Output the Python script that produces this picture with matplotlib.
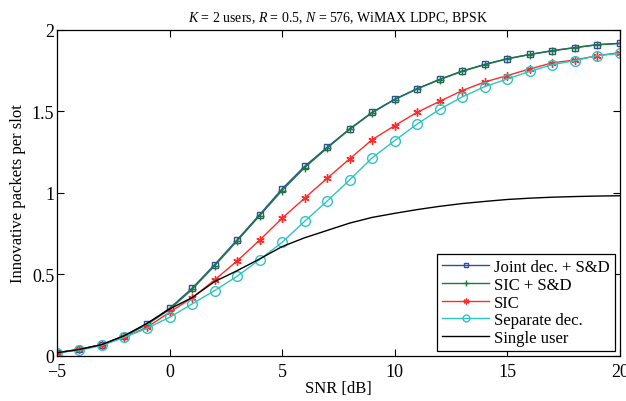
import matplotlib
matplotlib.use("Agg")
import matplotlib.pyplot as plt
import numpy as np

plt.rcParams['font.family'] = ['Liberation Serif', 'DejaVu Serif']
plt.rcParams['mathtext.fontset'] = 'custom'
plt.rcParams['mathtext.it'] = 'Liberation Serif:italic'
plt.rcParams['mathtext.rm'] = 'Liberation Serif'

snr = list(range(-5, 21))
joint = [0.02, 0.04, 0.07, 0.125, 0.196, 0.292, 0.415, 0.56, 0.712, 0.867, 1.025, 1.163,
         1.28, 1.393, 1.495, 1.575, 1.64, 1.697, 1.748, 1.789, 1.824, 1.85, 1.873, 1.892,
         1.91, 1.918]
sic_sd = [0.02, 0.04, 0.07, 0.122, 0.193, 0.285, 0.408, 0.553, 0.705, 0.86, 1.015, 1.155,
          1.275, 1.39, 1.492, 1.573, 1.638, 1.695, 1.746, 1.787, 1.822, 1.849, 1.872, 1.891,
          1.909, 1.917]
sic = [0.02, 0.04, 0.07, 0.115, 0.176, 0.268, 0.356, 0.466, 0.583, 0.71, 0.845, 0.968,
       1.09, 1.209, 1.327, 1.413, 1.495, 1.562, 1.628, 1.681, 1.72, 1.761, 1.798, 1.816,
       1.842, 1.861]
separate = [0.02, 0.035, 0.065, 0.115, 0.17, 0.237, 0.319, 0.401, 0.489, 0.591, 0.697,
            0.826, 0.95, 1.08, 1.215, 1.321, 1.423, 1.513, 1.589, 1.652, 1.699, 1.746,
            1.787, 1.812, 1.842, 1.856]
single = [0.02, 0.04, 0.07, 0.125, 0.2, 0.288, 0.358, 0.456, 0.523, 0.595, 0.671, 0.725,
          0.77, 0.815, 0.85, 0.875, 0.898, 0.918, 0.935, 0.948, 0.96, 0.968, 0.974, 0.978,
          0.981, 0.983]

fig = plt.figure(figsize=(6.26, 4.02), dpi=100)
ax = fig.add_axes([0.091, 0.112, 0.899, 0.811])

ax.plot(snr, joint, color='#2f4fa0', lw=1, marker='s', ms=5, mfc='none', mew=1,
        label='Joint dec. + S&D')
ax.plot(snr, sic_sd, color='#1a7a3a', lw=1, marker='+', ms=6, mew=1,
        label='SIC + S&D')
ax.plot(snr, sic, color='#ff2a2a', lw=1, marker=(6, 2, 0), ms=6, mew=1,
        label='SIC')
ax.plot(snr, separate, color='#2ec4c4', lw=1, marker='o', ms=7, mfc='none', mew=1,
        label='Separate dec.')
ax.plot(snr, single, color='black', lw=1, label='Single user')

ax.set_xlim(-5, 20)
ax.set_ylim(0, 2)
ax.set_xticks([-5, 0, 5, 10, 15, 20])
ax.set_yticks([0, 0.5, 1, 1.5, 2])
ax.set_yticklabels(['0', '0.5', '1', '1.5', '2'])
ax.tick_params(direction='in', top=True, right=True, labelsize=13, length=5)
ax.tick_params(axis='x', pad=5)
ax.tick_params(axis='y', pad=2)
for s in ax.spines.values():
    s.set_linewidth(0.9)

ax.set_xlabel('SNR [dB]', fontsize=12, labelpad=0)
ax.set_ylabel('Innovative packets per slot', fontsize=12, labelpad=4)
ax.set_title('$K$ = 2 users, $R$ = 0.5, $N$ = 576, WiMAX LDPC, BPSK', fontsize=10, pad=6)

leg = ax.legend(loc='lower right', fontsize=12, frameon=True, fancybox=False,
                edgecolor='black', framealpha=1, borderpad=0.3, labelspacing=0.1,
                handlelength=2.8, handletextpad=0.3, borderaxespad=0.3, markerscale=0.7)
leg.get_frame().set_linewidth(0.9)

fig.savefig('out.png', dpi=100)
